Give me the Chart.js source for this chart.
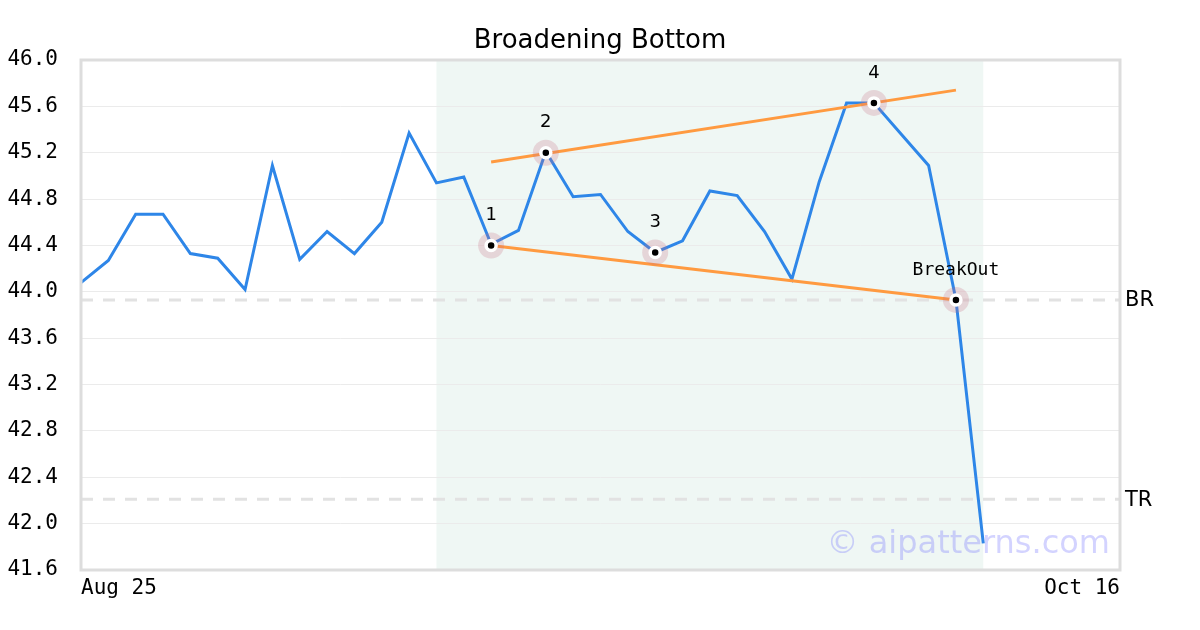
<!DOCTYPE html>
<html lang="en">
<head>
  <meta charset="UTF-8">
  <title>Broadening Bottom</title>
  <script src="https://cdn.jsdelivr.net/npm/chart.js"></script>
  <style>
    body { margin: 0; background: #fff; }
    #wrap { width: 1200px; height: 630px; }
  </style>
</head>
<body>
<div id="wrap">
  <canvas id="myChart"></canvas>
</div>
<script>
const title = 'Broadening Bottom';

// x labels: only the ends are shown
const labels = ['Aug 25', '', '', '', '', '', '', '', '', '', '', '', '', '', '', '', '', '', '', '',
  '', '', '', '', '', '', '', '', '', '', '', '', '', '', '', '', '', '', 'Oct 16'];

const prices = [44.08, 44.27, 44.67, 44.67, 44.33, 44.29, 44.02, 45.09, 44.28, 44.52,
  44.33, 44.60, 45.37, 44.94, 44.99, 44.41, 44.53, 45.21, 44.82, 44.84,
  44.52, 44.34, 44.44, 44.87, 44.83, 44.52, 44.11, 44.95, 45.63, 45.63,
  45.36, 45.09, 43.93, 41.83];

const pivotIdx = [15, 17, 21, 29, 32];
const pivotVals = [44.40, 45.20, 44.34, 45.63, 43.93];
const pivotNames = ['1', '2', '3', '4', 'BreakOut'];

const topLine = { from: 15, to: 32, y0: 45.12, y1: 45.74 };
const botLine = { from: 15, to: 32, y0: 44.40, y1: 43.93 };

const brLevel = 43.93;
const trLevel = 42.21;

const shadeFrom = 13, shadeTo = 33;

function sparse(idx, vals) {
  const arr = labels.map(() => null);
  idx.forEach((k, i) => arr[k] = vals[i]);
  return arr;
}

const overlay = {
  id: 'overlay',
  beforeDraw(chart) {
    const ctx = chart.ctx, a = chart.chartArea, x = chart.scales.x;
    ctx.save();
    ctx.fillStyle = '#eff7f4';
    const x0 = x.getPixelForValue(shadeFrom), x1 = x.getPixelForValue(shadeTo);
    ctx.fillRect(x0, a.top, x1 - x0, a.bottom - a.top);
    ctx.restore();
  },
  afterDraw(chart) {
    const ctx = chart.ctx, a = chart.chartArea, x = chart.scales.x, y = chart.scales.y;
    ctx.save();
    // frame
    ctx.strokeStyle = '#dddddd';
    ctx.lineWidth = 3;
    ctx.strokeRect(a.left, a.top, a.right - a.left, a.bottom - a.top);

    ctx.fillStyle = '#000';
    ctx.textAlign = 'center';
    ctx.textBaseline = 'middle';

    // title, centred on the whole canvas
    ctx.font = '26px "DejaVu Sans"';
    ctx.fillText(title, chart.width / 2, 41);

    // pivot labels
    pivotIdx.forEach((k, i) => {
      const name = pivotNames[i];
      ctx.font = name.length > 1 ? '18px "DejaVu Sans Mono"' : '18px "DejaVu Sans"';
      ctx.fillText(name, x.getPixelForValue(k), y.getPixelForValue(pivotVals[i]) - 30);
    });

    // level labels
    ctx.textAlign = 'left';
    ctx.font = '21px "DejaVu Sans"';
    ctx.fillText('BR', a.right + 5, y.getPixelForValue(brLevel) + 1);
    ctx.fillText('TR', a.right + 5, y.getPixelForValue(trLevel) + 1);

    // watermark
    ctx.textAlign = 'right';
    ctx.font = '32px "DejaVu Sans"';
    ctx.fillStyle = 'rgba(110,110,255,0.3)';
    ctx.fillText('\u00a9 aipatterns.com', a.right - 10, a.bottom - 25);
    ctx.restore();
  }
};

const data = {
  labels: labels,
  datasets: [
    {
      data: sparse(pivotIdx, pivotVals),
      showLine: false,
      pointRadius: 5,
      pointBackgroundColor: '#000',
      pointBorderColor: '#fff',
      pointBorderWidth: 3.5
    },
    {
      data: sparse(pivotIdx, pivotVals),
      showLine: false,
      pointRadius: 13,
      pointBackgroundColor: 'rgba(200,110,130,0.25)',
      pointBorderWidth: 0
    },
    {
      data: sparse([topLine.from, topLine.to], [topLine.y0, topLine.y1]),
      borderColor: '#ff9a40',
      borderWidth: 3,
      pointRadius: 0,
      spanGaps: true
    },
    {
      data: sparse([botLine.from, botLine.to], [botLine.y0, botLine.y1]),
      borderColor: '#ff9a40',
      borderWidth: 3,
      pointRadius: 0,
      spanGaps: true
    },
    {
      data: prices,
      borderColor: '#2e86e8',
      borderWidth: 3,
      pointRadius: 0
    },
    {
      data: labels.map(() => brLevel),
      borderColor: '#e2e2e2',
      borderWidth: 3,
      borderDash: [12, 10],
      pointRadius: 0
    },
    {
      data: labels.map(() => trLevel),
      borderColor: '#e2e2e2',
      borderWidth: 3,
      borderDash: [12, 10],
      pointRadius: 0
    }
  ]
};

const config = {
  type: 'line',
  data: data,
  options: {
    responsive: true,
    maintainAspectRatio: false,
    animation: false,
    events: [],
    layout: { padding: { left: 0, right: 80, top: 60, bottom: 20 } },
    plugins: {
      legend: { display: false },
      tooltip: { enabled: false },
      title: { display: false }
    },
    scales: {
      x: {
        grid: { display: false, drawTicks: false },
        border: { display: false },
        afterFit(s) { s.height = 40; },
        ticks: {
          autoSkip: false,
          maxRotation: 0,
          align: 'inner',
          padding: 6,
          color: '#000',
          font: { family: 'DejaVu Sans Mono', size: 21 }
        }
      },
      y: {
        min: 41.6,
        max: 46.0,
        afterFit(s) { s.width = 81; },
        grid: { color: '#ebebeb', lineWidth: 1, drawTicks: false },
        border: { display: false },
        ticks: {
          stepSize: 0.4,
          padding: 23,
          color: '#000',
          font: { family: 'DejaVu Sans Mono', size: 21 },
          callback: v => v.toFixed(1)
        }
      }
    }
  },
  plugins: [overlay]
};

const myChart = new Chart(document.getElementById('myChart'), config);
</script>
</body>
</html>
